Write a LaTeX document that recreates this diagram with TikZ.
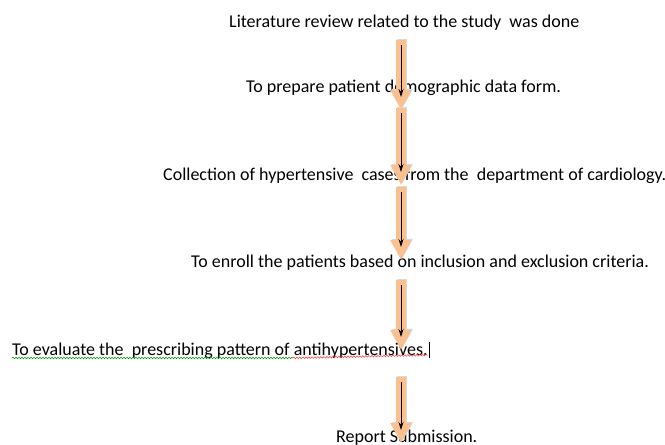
\documentclass[tikz,border=0pt]{standalone}
\usepackage{fontspec}
\setmainfont{Carlito}
\usetikzlibrary{arrows.meta,decorations.pathmorphing}
\definecolor{peach}{RGB}{250,192,144}
\tikzstyle{step text} = [inner sep=0pt, anchor=base west, font=\fontsize{18}{20}\selectfont]
\tikzstyle{band} = [line width=10pt, peach, -{Triangle[width=20pt,length=20pt]}]
\tikzstyle{shade} = [line width=10pt, black!15, -{Triangle[width=20pt,length=20pt]}]
\tikzstyle{arrow} = [thick, -{Stealth[width=5pt,length=8pt]}]
\tikzstyle{squiggle} = [decorate, decoration={snake, amplitude=0.8pt, segment length=3pt}, line width=0.5pt]

\begin{document}
\begin{tikzpicture}[x=1pt,y=-1pt]
			\useasboundingbox (0,0) rectangle (665,445);
			\fill[white] (0,0) rectangle (665,445);
			% the steps
			\node[step text] (lit) at (229,27) {Literature review related to the study\ \ was done};
			\node[step text] (prep) at (246,92) {To prepare patient demographic data form.};
			\node[step text] (coll) at (163,180) {Collection of hypertensive\ \ cases from the\ \ department of cardiology.};
			\node[step text] (enrol) at (191,267) {To enroll the patients based on inclusion and exclusion criteria.};
			\node[step text] (eval) at (12,355) {To evaluate the\ \ prescribing pattern of antihypertensives.};
			\node[step text] (report) at (336,442) {Report Submission.};
			% spell check marks and cursor
			\draw[squiggle, green!60!black] (eval.base west) ++(0,3) -- ++(281,0);
			\draw[squiggle, red!80] (eval.base west) ++(281,3) -- (eval.base east) ++(0,3);
			\draw[thick] (eval.base east) ++(2,3) -- ++(0,-16);
			% block arrows
			\coordinate (t1) at (401,40);  \coordinate (h1) at (401,110);
			\coordinate (t2) at (401,108); \coordinate (h2) at (401,185);
			\coordinate (t3) at (401,187); \coordinate (h3) at (401,260);
			\coordinate (t4) at (401,280); \coordinate (h4) at (401,350);
			\coordinate (t5) at (401,377); \coordinate (h5) at (401,443);
			\foreach \i in {1,...,5} {
				\draw[shade] ([shift={(1.2,-1.2)}]t\i) -- ([shift={(1.2,-1.2)}]h\i);
				\draw[band] (t\i) -- (h\i);
				\draw[arrow] ([yshift=-5]t\i) -- ([yshift=13]h\i);
			}
		\end{tikzpicture}
\end{document}
